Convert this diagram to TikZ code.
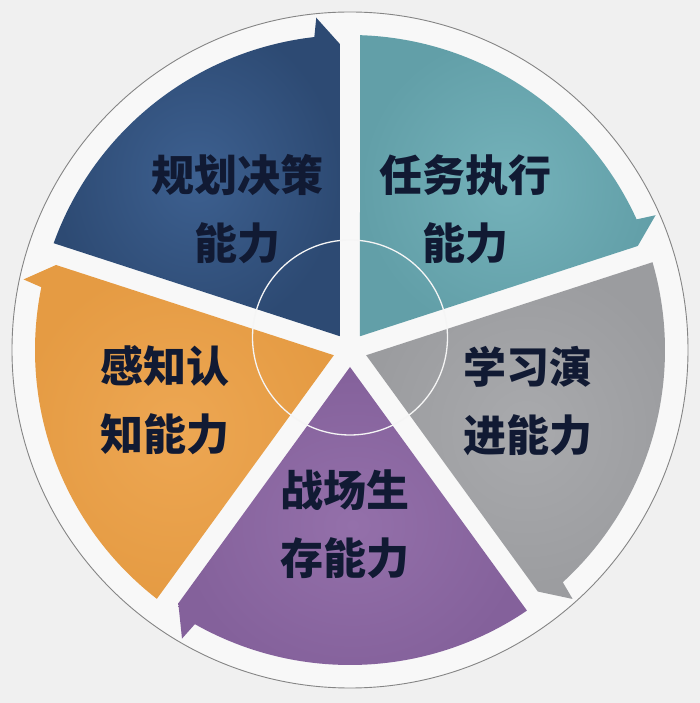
\documentclass[tikz,border=0pt]{standalone}
\usepackage{fontspec}
\newfontfamily\cjk{Noto Sans CJK SC}
\definecolor{bgc}{HTML}{F0F0F0}
\definecolor{disc}{HTML}{F8F8F8}
\definecolor{ringc}{HTML}{858585}
\definecolor{bluein}{HTML}{3D6090}
\definecolor{blueout}{HTML}{2D4A73}
\definecolor{tealin}{HTML}{74B2BA}
\definecolor{tealout}{HTML}{629FA8}
\definecolor{greyin}{HTML}{A9AAAD}
\definecolor{greyout}{HTML}{9B9C9F}
\definecolor{purplein}{HTML}{9470AA}
\definecolor{purpleout}{HTML}{84619B}
\definecolor{orangein}{HTML}{EDA753}
\definecolor{orangeout}{HTML}{E59B43}
\definecolor{txtc}{HTML}{111A33}
\tikzset{
  lbl/.style={align=center,inner sep=0pt,text=txtc,font=\cjk\bfseries\fontsize{43pt}{68pt}\selectfont}
}
\newcommand\mysector[2]{%
  \begin{scope}[rotate=#1]
    \shade[inner color=#2in,outer color=#2out] (17pt,0pt) -- (34.18:315pt)
      arc[start angle=34.18,end angle=-29.5,radius=315pt]
      -- (-30.2:334pt) -- (-34.13:306pt) -- cycle;
  \end{scope}}
\begin{document}
\begin{tikzpicture}
\useasboundingbox[fill=bgc] (-350pt,-353pt) rectangle (350pt,350pt);
\fill[disc] (0,0) circle[radius=338pt];
\draw[ringc,line width=0.9pt] (0,0) circle[radius=338pt];
\mysector{126}{blue}
\mysector{54}{teal}
\mysector{-18}{grey}
\mysector{-90}{purple}
\mysector{-162}{orange}
\draw[white!92!gray,line width=1.3pt] (0pt,12.5pt) circle[radius=97.5pt];
\node[lbl] (plan) at (-112pt,141pt) {规划决策\\能力};
\node[lbl] (exec) at (115pt,141pt) {任务执行\\能力};
\node[lbl] (learn) at (178pt,-51pt) {学习演\\进能力};
\node[lbl] (sense) at (-185pt,-50pt) {感知认\\知能力};
\node[lbl] (surv) at (-5pt,-174pt) {战场生\\存能力};
\end{tikzpicture}
\end{document}
